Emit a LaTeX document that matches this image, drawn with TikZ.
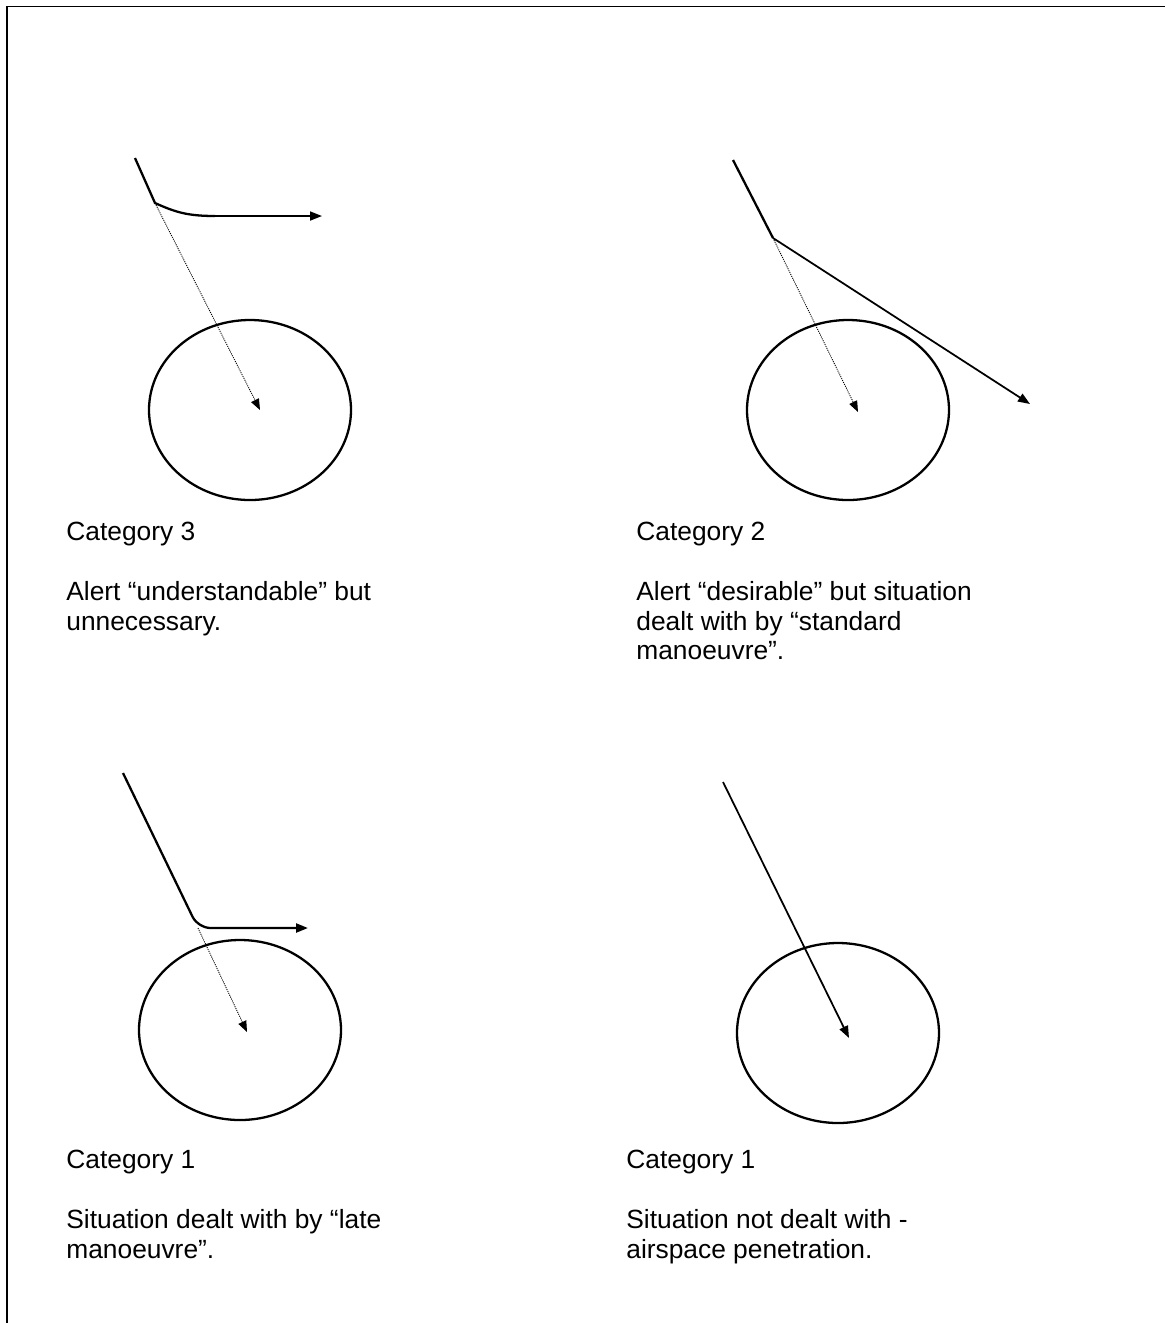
\documentclass[tikz,border=0pt]{standalone}
\usepackage{fontspec}
\setmainfont{Liberation Sans}
\usetikzlibrary{arrows.meta}

\begin{document}
\begin{tikzpicture}[
  x=0.02cm, y=-0.02cm,
  font=\fontsize{15}{17.07}\selectfont,
  frame/.style={line width=1pt},
  track/.style={line width=1.3pt},
  turn/.style={line width=1pt, -{Triangle[length=2.4mm, width=1.8mm]}},
  direct/.style={dash pattern=on 0.6pt off 0.6pt, line width=0.5pt, -{Triangle[length=2.2mm, width=1.7mm]}},
  zone/.style={line width=1.3pt},
  cattext/.style={anchor=base west, inner sep=0pt}
]
\useasboundingbox (0,0) rectangle (1165,1323);
% page frame (top and left edge only)
\draw[frame] (1165,6.5) -- (7.3,6.5) -- (7.3,1323);

% category 3: early turn away
\coordinate (a3) at (135,158);
\coordinate (k3) at (155,203);
\coordinate (h3) at (215,216);
\coordinate (e3) at (322,216);
\coordinate (t3) at (260,410);
\draw[zone] (250,410) ellipse [x radius=101, y radius=90];
\draw[track] (a3) -- (k3) .. controls +(20,9) and +(-28,0) .. (h3);
\draw[turn] (h3) -- (e3);
\draw[direct] (k3) -- (t3);
\node[cattext] (cat3) at (66,540) {Category 3};
\node[cattext] (desc3) at (66,600) {\begin{tabular}[t]{@{}l@{}}Alert “understandable” but\\unnecessary.\end{tabular}};

% category 2: standard manoeuvre
\coordinate (a2) at (733,160);
\coordinate (k2) at (773,238);
\coordinate (e2) at (1030,404);
\coordinate (t2) at (858,412);
\draw[zone] (848,410) ellipse [x radius=101, y radius=90];
\draw[track] (a2) -- (k2);
\draw[turn] (k2) -- (e2);
\draw[direct] (k2) -- (t2);
\node[cattext] (cat2) at (636,540) {Category 2};
\node[cattext] (desc2) at (636,600) {\begin{tabular}[t]{@{}l@{}}Alert “desirable” but situation\\dealt with by “standard\\manoeuvre”.\end{tabular}};

% category 1: late manoeuvre
\coordinate (a1) at (123,773);
\coordinate (k1) at (198,928);
\coordinate (e1) at (308,928);
\coordinate (t1) at (247,1032);
\draw[zone] (240,1030) ellipse [x radius=101, y radius=90];
\draw[track, rounded corners=0.25cm, -{Triangle[length=2.4mm, width=1.8mm]}] (a1) -- (k1) -- (e1);
\draw[direct] (k1) -- (t1);
\node[cattext] (cat1a) at (66,1168) {Category 1};
\node[cattext] (desc1a) at (66,1228) {\begin{tabular}[t]{@{}l@{}}Situation dealt with by “late\\manoeuvre”.\end{tabular}};

% category 1: penetration
\coordinate (a0) at (723,782);
\coordinate (t0) at (849,1038);
\draw[zone] (838,1033) ellipse [x radius=101, y radius=90];
\draw[turn] (a0) -- (t0);
\node[cattext] (cat1b) at (626,1168) {Category 1};
\node[cattext] (desc1b) at (626,1228) {\begin{tabular}[t]{@{}l@{}}Situation not dealt with -\\airspace penetration.\end{tabular}};
\end{tikzpicture}
\end{document}
